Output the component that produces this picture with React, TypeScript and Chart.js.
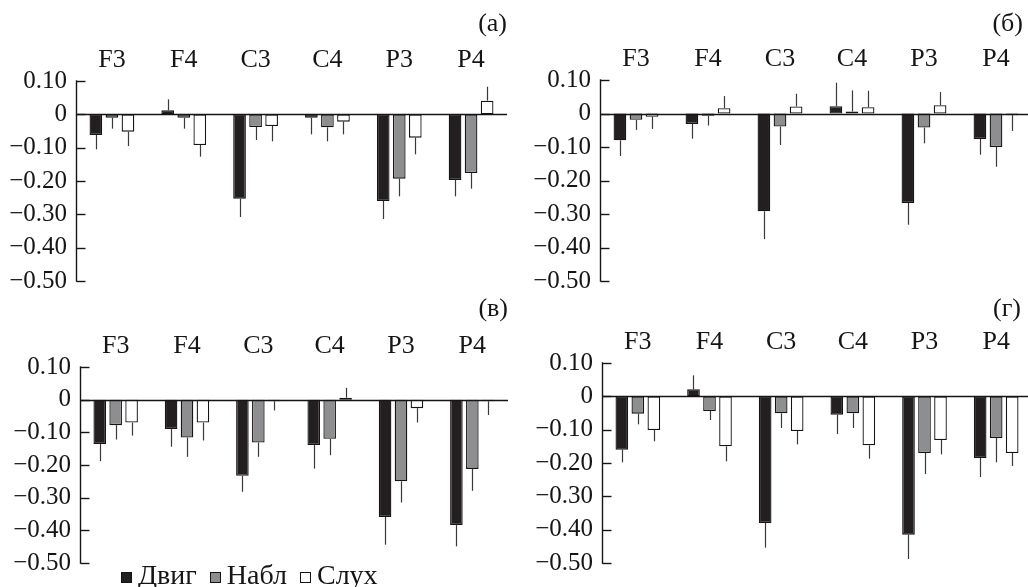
import React, { useEffect, useRef } from "react";
import { Chart, registerables } from "chart.js";

Chart.register(...registerables);

const categories = ["F3", "F4", "C3", "C4", "P3", "P4"];
const seriesNames = ["Двиг", "Набл", "Слух"];
const yTickValues = [0.1, 0, -0.1, -0.2, -0.3, -0.4, -0.5];

// Panel (а)
const aMotor = [-0.062, 0.012, -0.253, -0.01, -0.26, -0.197];
const aObs = [-0.01, -0.01, -0.038, -0.039, -0.193, -0.176];
const aAud = [-0.052, -0.092, -0.035, -0.022, -0.07, 0.041];
const aMotorErr = [0.043, 0.033, 0.055, 0.05, 0.054, 0.049];
const aObsErr = [0.033, 0.033, 0.039, 0.042, 0.053, 0.047];
const aAudErr = [0.043, 0.035, 0.046, 0.038, 0.05, 0.042];

// Panel (б)
const bMotor = [-0.08, -0.031, -0.292, 0.022, -0.267, -0.076];
const bObs = [-0.019, -0.007, -0.039, 0.006, -0.042, -0.1];
const bAud = [-0.01, 0.016, 0.021, 0.019, 0.025, -0.005];
const bMotorErr = [0.047, 0.044, 0.083, 0.07, 0.065, 0.047];
const bObsErr = [0.03, 0.029, 0.055, 0.063, 0.047, 0.059];
const bAudErr = [0.036, 0.036, 0.038, 0.049, 0.039, 0.047];

// Panel (в)
const vMotor = [-0.136, -0.09, -0.233, -0.139, -0.359, -0.384];
const vObs = [-0.078, -0.116, -0.131, -0.12, -0.25, -0.212];
const vAud = [-0.07, -0.07, -0.005, 0.006, -0.026, -0.005];
const vMotorErr = [0.052, 0.054, 0.049, 0.072, 0.085, 0.065];
const vObsErr = [0.044, 0.059, 0.044, 0.05, 0.065, 0.067];
const vAudErr = [0.04, 0.055, 0.028, 0.03, 0.044, 0.042];

// Panel (г)
const gMotor = [-0.16, 0.021, -0.38, -0.055, -0.415, -0.185];
const gObs = [-0.052, -0.044, -0.051, -0.051, -0.17, -0.125];
const gAud = [-0.101, -0.15, -0.104, -0.147, -0.131, -0.17];
const gMotorErr = [0.038, 0.042, 0.074, 0.058, 0.073, 0.057];
const gObsErr = [0.032, 0.027, 0.044, 0.044, 0.063, 0.073];
const gAudErr = [0.034, 0.045, 0.04, 0.04, 0.043, 0.039];

const FONT = "'Liberation Serif', 'Times New Roman', serif";
const INK = "#161415";
const fills = ["#231f20", "#8e8e90", "#ffffff"];

const fmtTick = (v: number) => {
  if (Math.abs(v) < 1e-9) return "0";
  return (v < 0 ? "\u2212" : "") + Math.abs(v).toFixed(2);
};

const line = (ctx: CanvasRenderingContext2D, x1: number, y1: number, x2: number, y2: number) => {
  ctx.beginPath();
  ctx.moveTo(x1, y1);
  ctx.lineTo(x2, y2);
  ctx.stroke();
};

const decorPlugin = {
  id: "decor",
  afterDatasetsDraw(chart: any) {
    const { ctx, chartArea, scales } = chart;
    const y = scales.y;
    ctx.save();
    chart.data.datasets.forEach((ds: any, di: number) => {
      const meta = chart.getDatasetMeta(di);
      meta.data.forEach((bar: any, i: number) => {
        const v = ds.data[i];
        const e = ds.errors[i];
        const end = v >= 0 ? v + e : v - e;
        const x = Math.round(bar.x) + 0.5;
        ctx.strokeStyle = "#3a3a3a";
        ctx.lineWidth = 1.2;
        line(ctx, x, y.getPixelForValue(v), x, y.getPixelForValue(end));
      });
    });
    ctx.strokeStyle = INK;
    ctx.lineWidth = 1.4;
    const z = Math.round(y.getPixelForValue(0)) + 0.5;
    line(ctx, chartArea.left, z, chartArea.right, z);
    const left = Math.round(chartArea.left) + 0.5;
    line(ctx, left, y.getPixelForValue(0.1) - 0.7, left, y.getPixelForValue(-0.5) + 0.7);
    yTickValues.forEach((v) => {
      const py = Math.round(y.getPixelForValue(v)) + 0.5;
      line(ctx, left, py, left + 9, py);
    });
    ctx.restore();
  },
};

type PanelCfg = {
  left: number;
  top: number;
  w: number;
  h: number;
  yw: number;
  xh: number;
  pb: number;
  values: number[][];
  errors: number[][];
};

function Panel({ cfg }: { cfg: PanelCfg }) {
  const ref = useRef<HTMLCanvasElement | null>(null);
  useEffect(() => {
    if (!ref.current) return;
    const chart = new Chart(ref.current, {
      type: "bar",
      data: {
        labels: categories,
        datasets: seriesNames.map((name, k) => ({
          label: name,
          data: cfg.values[k],
          errors: cfg.errors[k],
          backgroundColor: fills[k],
          borderColor: INK,
          borderWidth: 1.3,
          borderSkipped: false,
          categoryPercentage: 0.67,
          barPercentage: 0.79,
        })) as any,
      },
      options: {
        responsive: false,
        animation: false,
        devicePixelRatio: 1,
        layout: { padding: { left: 0, right: 0, top: 0, bottom: cfg.pb } },
        plugins: { legend: { display: false }, tooltip: { enabled: false }, title: { display: false } },
        scales: {
          x: {
            type: "category",
            position: "top",
            grid: { display: false, drawTicks: false },
            border: { display: false },
            ticks: { font: { family: FONT, size: 26 }, color: INK, padding: 5, maxRotation: 0, autoSkip: false },
            afterFit: (s: any) => {
              s.height = cfg.xh;
            },
          },
          y: {
            type: "linear",
            min: -0.5,
            max: 0.1,
            grid: { display: false, drawTicks: false },
            border: { display: false },
            ticks: {
              font: { family: FONT, size: 25 },
              color: INK,
              padding: 9,
              autoSkip: false,
              callback: (v: any) => fmtTick(Number(v)),
            },
            afterBuildTicks: (s: any) => {
              s.ticks = yTickValues.map((v) => ({ value: v }));
            },
            afterFit: (s: any) => {
              s.width = cfg.yw;
            },
          },
        },
      } as any,
      plugins: [decorPlugin],
    });
    return () => chart.destroy();
  }, []);
  return (
    <canvas
      ref={ref}
      width={cfg.w}
      height={cfg.h}
      style={{ position: "absolute", left: cfg.left, top: cfg.top, width: cfg.w, height: cfg.h }}
    />
  );
}

const panels: PanelCfg[] = [
  { left: 0, top: 0, w: 507, h: 305, yw: 76, xh: 81, pb: 14, values: [aMotor, aObs, aAud], errors: [aMotorErr, aObsErr, aAudErr] },
  { left: 514, top: 0, w: 518, h: 305, yw: 86, xh: 80, pb: 16, values: [bMotor, bObs, bAud], errors: [bMotorErr, bObsErr, bAudErr] },
  { left: 0, top: 290, w: 508, h: 297, yw: 80, xh: 77, pb: 12, values: [vMotor, vObs, vAud], errors: [vMotorErr, vObsErr, vAudErr] },
  { left: 514, top: 290, w: 518, h: 297, yw: 88, xh: 73, pb: 14, values: [gMotor, gObs, gAud], errors: [gMotorErr, gObsErr, gAudErr] },
];

const panelLetters = [
  { text: "(а)", right: 507, cy: 25 },
  { text: "(б)", right: 1023, cy: 25 },
  { text: "(в)", right: 508, cy: 310 },
  { text: "(г)", right: 1021, cy: 310 },
];

export default function App() {
  const textStyle: React.CSSProperties = {
    position: "absolute",
    fontFamily: FONT,
    fontSize: 26,
    lineHeight: "26px",
    color: INK,
    whiteSpace: "nowrap",
  };
  return (
    <div
      style={{
        position: "absolute",
        left: 0,
        top: 0,
        width: 1028,
        height: 587,
        overflow: "hidden",
        background: "#ffffff",
      }}
    >
      {panels.map((p, i) => (
        <Panel key={i} cfg={p} />
      ))}
      {panelLetters.map((l, i) => (
        <div key={"l" + i} style={{ ...textStyle, right: 1028 - l.right, top: l.cy - 15 }}>
          {l.text}
        </div>
      ))}
      <div style={{ ...textStyle, fontSize: 28, lineHeight: "28px", left: 121, top: 561, display: "flex", alignItems: "center" }}>
        {seriesNames.map((name, k) => (
          <span key={name} style={{ display: "inline-flex", alignItems: "center", marginRight: k < 2 ? 13 : 0 }}>
            <span
              style={{
                display: "inline-block",
                width: 9,
                height: 9,
                background: fills[k],
                border: "1px solid " + INK,
                marginRight: 6,
                marginTop: 4,
              }}
            />
            {name}
          </span>
        ))}
      </div>
    </div>
  );
}
